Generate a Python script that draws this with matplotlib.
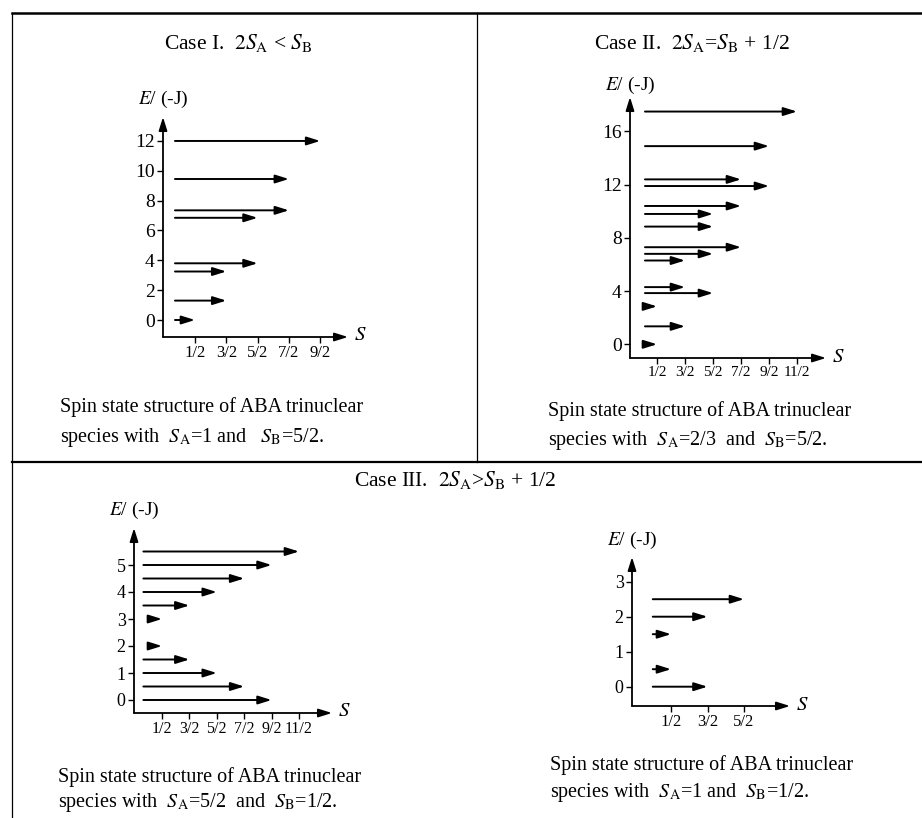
import matplotlib
matplotlib.use("Agg")
import matplotlib.pyplot as plt
from matplotlib.lines import Line2D

plt.rcParams['font.family'] = ['Liberation Serif', 'DejaVu Serif']
plt.rcParams['mathtext.fontset'] = 'stix'

W, H = 922, 818

# data: energy of each level and its total spin S
case1_E = [0, 1.3, 3.25, 3.8, 6.85, 7.35, 9.45, 12]
case1_S = [0.5, 1.5, 1.5, 2.5, 2.5, 3.5, 3.5, 4.5]
case1_yticks = [0, 2, 4, 6, 8, 10, 12]
case1_xticks = [0.5, 1.5, 2.5, 3.5, 4.5]

case2_E = [0, 1.35, 2.85, 3.85, 4.3, 6.3, 6.8, 7.3, 8.85, 9.8, 10.4, 11.9, 12.4, 14.9, 17.5]
case2_S = [0.5, 1.5, 0.5, 2.5, 1.5, 1.5, 2.5, 3.5, 2.5, 2.5, 3.5, 4.5, 3.5, 4.5, 5.5]
case2_yticks = [0, 4, 8, 12, 16]
case2_xticks = [0.5, 1.5, 2.5, 3.5, 4.5, 5.5]

case3a_E = [0, 0.5, 1, 1.5, 2, 3, 3.5, 4, 4.5, 5, 5.5]
case3a_S = [4.5, 3.5, 2.5, 1.5, 0.5, 0.5, 1.5, 2.5, 3.5, 4.5, 5.5]
case3a_yticks = [0, 1, 2, 3, 4, 5]
case3a_xticks = [0.5, 1.5, 2.5, 3.5, 4.5, 5.5]

case3b_E = [0, 0.5, 1.5, 2, 2.5]
case3b_S = [1.5, 0.5, 0.5, 1.5, 2.5]
case3b_yticks = [0, 1, 2, 3]
case3b_xticks = [0.5, 1.5, 2.5]

xtick_labels = {0.5: '1/2', 1.5: '3/2', 2.5: '5/2', 3.5: '7/2', 4.5: '9/2', 5.5: '11/2'}

fig = plt.figure(figsize=(W / 100, H / 100), dpi=100)


def fx(px):
    return px / W


def fy(py):
    return 1 - py / H


# arrow look
head = "-|>,head_length=0.8,head_width=0.25"


def panel(E, S, yticks, xticks, box, cal, start, short, ysize, xsize, elabel_y):
    left, top, right, bottom = box
    s_half, s_unit, e_zero, e_unit = cal
    ax = fig.add_axes([fx(left), fy(bottom), (right - left) / W, (bottom - top) / H])
    ax.set_xlim(0.5 + (left - s_half) / s_unit, 0.5 + (right - s_half) / s_unit)
    ax.set_ylim((e_zero - bottom) / e_unit, (e_zero - top) / e_unit)
    for sp in ax.spines.values():
        sp.set_visible(False)
    ax.patch.set_alpha(0)
    # axes drawn as arrows
    ax.annotate("", xy=(0, 1), xytext=(0, 0), xycoords='axes fraction',
                arrowprops=dict(arrowstyle=head, color='k', lw=1.3, shrinkA=0, shrinkB=0))
    ax.annotate("", xy=(1, 0), xytext=(0, 0), xycoords='axes fraction',
                arrowprops=dict(arrowstyle=head, color='k', lw=1.3, shrinkA=0, shrinkB=0))
    for e, s in zip(E, S):
        # the S=1/2 arrows may start a little later
        x0 = max(start, s - short) if s < 1 else start
        ax.annotate("", xy=(s, e), xytext=(x0, e),
                    arrowprops=dict(arrowstyle=head, color='k', lw=1.4, shrinkA=0, shrinkB=0))
    ax.set_yticks(yticks)
    ax.set_yticklabels([str(t) for t in yticks], fontsize=ysize)
    ax.set_xticks(xticks)
    ax.set_xticklabels([xtick_labels[t] for t in xticks], fontsize=xsize)
    ax.tick_params(direction='out', length=4, width=1, pad=2)
    fig.text(fx(left), fy(elabel_y), r"$E$/ (-J)", fontsize=14, ha='center', va='center')
    fig.text(fx(right + 12), fy(bottom - 1), r"$S$", fontsize=15, ha='center', va='center')
    return ax


panel(case1_E, case1_S, case1_yticks, case1_xticks,
      (163, 117, 348, 337), (195, 31.3, 320, 14.92), -0.14, 1.0, 14, 12, 99)
panel(case2_E, case2_S, case2_yticks, case2_xticks,
      (630, 97, 826, 358), (657, 28.0, 344.3, 13.3), 0.07, 1.0, 14, 11, 85)
panel(case3a_E, case3a_S, case3a_yticks, case3a_xticks,
      (134, 528, 332, 713), (162, 27.4, 700, 27.0), -0.18, 0.45, 13, 11.5, 510)
panel(case3b_E, case3b_S, case3b_yticks, case3b_xticks,
      (632, 557, 790, 706), (671, 36.5, 686.7, 35.0), 0.0, 1.0, 13, 12, 540)

# titles
fig.text(fx(238), fy(43), r"Case I.  $2S_\mathrm{A}$ < $S_\mathrm{B}$", fontsize=15.5, ha='center', va='center')
fig.text(fx(692), fy(43), r"Case II.  $2S_\mathrm{A}$=$S_\mathrm{B}$ + 1/2", fontsize=15.5, ha='center', va='center')
fig.text(fx(455), fy(480), r"Case III.  $2S_\mathrm{A}$>$S_\mathrm{B}$ + 1/2", fontsize=15.5, ha='center', va='center')

# captions
cap = 14.5
fig.text(fx(60), fy(407), "Spin state structure of ABA trinuclear", fontsize=cap, va='center')
fig.text(fx(60), fy(437), r"species with  $S_\mathrm{A}$=1 and   $S_\mathrm{B}$=5/2.", fontsize=cap, va='center')
fig.text(fx(548), fy(411), "Spin state structure of ABA trinuclear", fontsize=cap, va='center')
fig.text(fx(548), fy(440), r"species with  $S_\mathrm{A}$=2/3  and  $S_\mathrm{B}$=5/2.", fontsize=cap, va='center')
fig.text(fx(58), fy(777), "Spin state structure of ABA trinuclear", fontsize=cap, va='center')
fig.text(fx(58), fy(803), r"species with  $S_\mathrm{A}$=5/2  and  $S_\mathrm{B}$=1/2.", fontsize=cap, va='center')
fig.text(fx(550), fy(765), "Spin state structure of ABA trinuclear", fontsize=cap, va='center')
fig.text(fx(550), fy(792), r"species with  $S_\mathrm{A}$=1 and  $S_\mathrm{B}$=1/2.", fontsize=cap, va='center')

# frame lines
fig.add_artist(Line2D([fx(12), fx(922)], [fy(13), fy(13)], color='k', lw=1.8))
fig.add_artist(Line2D([fx(12), fx(12)], [fy(13), fy(818)], color='k', lw=0.9))
fig.add_artist(Line2D([fx(477), fx(477)], [fy(13), fy(462)], color='k', lw=0.9))
fig.add_artist(Line2D([fx(12), fx(922)], [fy(462), fy(462)], color='k', lw=1.6))

fig.savefig("out.png", dpi=100)
